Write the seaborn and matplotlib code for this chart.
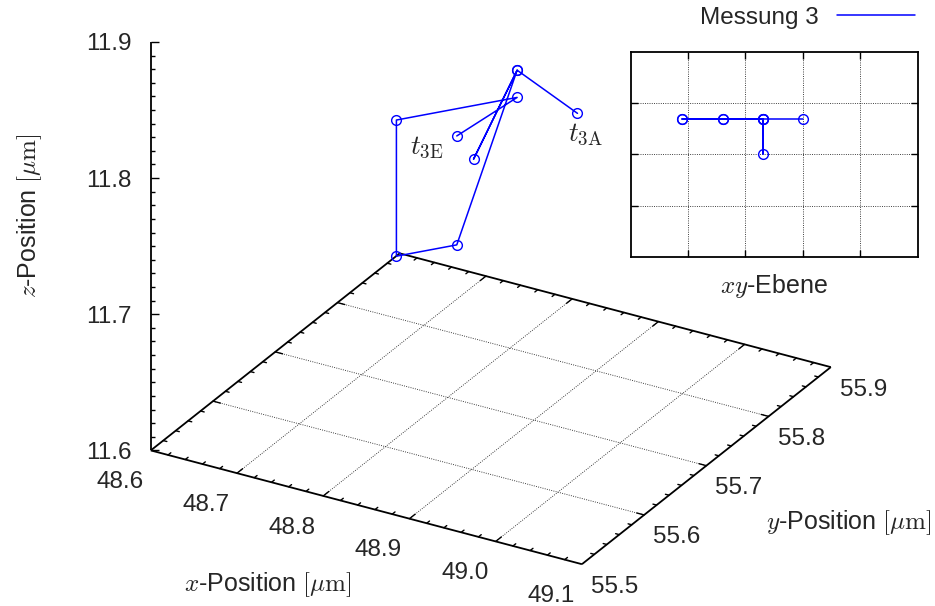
import numpy as np
import pandas as pd
import matplotlib
matplotlib.use("Agg")
import matplotlib.pyplot as plt
from matplotlib.lines import Line2D
from mpl_toolkits.mplot3d import proj3d
import seaborn as sns

# Trajectory of measurement 3, from the start (t_3A) to the end (t_3E), in µm
x_pos = [48.90, 48.83, 48.83, 48.83, 48.76, 48.69, 48.69, 48.83, 48.76]
y_pos = [55.77, 55.77, 55.70, 55.77, 55.77, 55.77, 55.77, 55.77, 55.77]
z_pos = [11.80, 11.82, 11.78, 11.82, 11.68, 11.66, 11.76, 11.80, 11.76]

x_ticks = [48.6, 48.7, 48.8, 48.9, 49.0, 49.1]
y_ticks = [55.5, 55.6, 55.7, 55.8, 55.9]
z_ticks = [11.6, 11.7, 11.8, 11.9]
x_tick_labels = ["48.6", "48.7", "48.8", "48.9", "49.0", "49.1"]
y_tick_labels = ["55.5", "55.6", "55.7", "55.8", "55.9"]
z_tick_labels = ["11.6", "11.7", "11.8", "11.9"]

series_label = "Messung 3"
start_label = r"$t_{\mathrm{3A}}$"
end_label = r"$t_{\mathrm{3E}}$"
x_title = r"$x$-Position $[\mu\mathrm{m}]$"
y_title = r"$y$-Position $[\mu\mathrm{m}]$"
z_title = r"$z$-Position $[\mu\mathrm{m}]$"
xy_title = r"$xy$-Ebene"

BLUE = "#0000ff"
FS = 17.5
FS_TITLE = 18

sns.set_theme(style="white")
plt.rcParams["font.family"] = ["Liberation Sans", "DejaVu Sans"]
plt.rcParams["mathtext.fontset"] = "cm"
plt.rcParams["font.size"] = FS

W, H = 935, 606
fig = plt.figure(figsize=(W / 100, H / 100), dpi=100)
fig.patch.set_facecolor("white")

# ---- 3D view ---------------------------------------------------------------
S = 800  # side of the square 3D axes, pixels
ax = fig.add_axes([80 / W, -9.35 / H, S / W, S / H], projection="3d",
                  proj_type="ortho", computed_zorder=False)
ax.view_init(elev=27.2, azim=-60)
ax.set_box_aspect((1, 1, 0.9225), zoom=1.0200)
x0, x1 = x_ticks[0], x_ticks[-1]
y0, y1 = y_ticks[0], y_ticks[-1]
z0, z1 = z_ticks[0], z_ticks[-1]
ax.set_xlim(x0, x1)
ax.set_ylim(y0, y1)
ax.set_zlim(z0, z1)
ax.set_axis_off()
ax.patch.set_alpha(0)

edge_kw = dict(color="black", lw=1.3, solid_capstyle="butt", zorder=3)
ax.plot([x0, x1], [y0, y0], [z0, z0], **edge_kw)
ax.plot([x1, x1], [y0, y1], [z0, z0], **edge_kw)
ax.plot([x0, x1], [y1, y1], [z0, z0], **edge_kw)
ax.plot([x0, x0], [y0, y1], [z0, z0], **edge_kw)
ax.plot([x0, x0], [y0, y0], [z0, z1], **edge_kw)

# dotted grid on the base plane
grid_kw = dict(color="0.15", lw=0.65, ls=(0, (1, 1.5)), zorder=2)
for xv in x_ticks[1:-1]:
    ax.plot([xv, xv], [y0, y1], [z0, z0], **grid_kw)
for yv in y_ticks[1:-1]:
    ax.plot([x0, x1], [yv, yv], [z0, z0], **grid_kw)

# inward tics on all four base edges (major 0.1, minor 0.02)
tick_kw = dict(color="black", lw=1.0, zorder=3)
x_minor = np.round(np.linspace(x0, x1, 26), 3)
y_minor = np.round(np.linspace(y0, y1, 21), 3)
for xv in x_minor[1:-1]:
    L = 0.009 if np.isclose(xv, x_ticks).any() else 0.0045
    ax.plot([xv, xv], [y0, y0 + L], [z0, z0], **tick_kw)
    ax.plot([xv, xv], [y1, y1 - L], [z0, z0], **tick_kw)
for yv in y_minor[1:-1]:
    L = 0.0085 if np.isclose(yv, y_ticks).any() else 0.0042
    ax.plot([x1, x1 - L], [yv, yv], [z0, z0], **tick_kw)
    ax.plot([x0, x0 + L], [yv, yv], [z0, z0], **tick_kw)

# z tics pointing right from the vertical axis
z_minor = np.round(np.linspace(z0, z1, 31), 3)
z_min_only = [v for v in z_minor if not np.isclose(v, z_ticks).any()]
ax.plot([x0] * len(z_ticks), [y0] * len(z_ticks), z_ticks, ls="none",
        marker=1, ms=5.6, mew=1.0, color="black", zorder=3)
ax.plot([x0] * len(z_min_only), [y0] * len(z_min_only), z_min_only, ls="none",
        marker=1, ms=3.1, mew=1.0, color="black", zorder=3)

# measured trajectory
ax.plot(x_pos, y_pos, z_pos, color=BLUE, lw=1.1, marker="o", ms=7,
        mfc="none", mec=BLUE, mew=1.0, zorder=5)

# texts are placed at the projected 3D anchor plus a pixel offset
M = ax.get_proj()


def label3d(x, y, z, s, dx, dy, fs=FS, **kw):
    px, py, _ = proj3d.proj_transform(x, y, z, M)
    ax.annotate(s, xy=(px, py), xycoords="data", xytext=(dx, dy),
                textcoords="offset pixels", fontsize=fs,
                annotation_clip=False, **kw)


for v, s in zip(x_ticks, x_tick_labels):
    label3d(v, y0, z0, s, -31, -29.3, ha="center", va="center_baseline")
for v, s in zip(y_ticks, y_tick_labels):
    label3d(x1, v, z0, s, 32.5, -20, ha="center", va="center_baseline")
for v, s in zip(z_ticks, z_tick_labels):
    label3d(x0, y0, v, s, -19, 0, ha="right", va="center_baseline")

label3d((x0 + x1) / 2, y0, z0, x_title, -98.7, -77, fs=FS_TITLE,
        ha="center", va="center")
label3d(x1, (y0 + y1) / 2, z0, y_title, 141.8, -56.5, fs=FS_TITLE,
        ha="center", va="center")
label3d(x0, y0, (z0 + z1) / 2, z_title, -120.7, 30.85, fs=FS_TITLE,
        ha="center", va="center", rotation=90)
label3d(x_pos[0], y_pos[0], z_pos[0], start_label, 8.3, -20.3, fs=19.5,
        ha="center", va="center")
label3d(x_pos[-1], y_pos[-1], z_pos[-1], end_label, -30, -11, fs=19.5,
        ha="center", va="center")

# ---- xy-plane inset ---------------------------------------------------------
ins = fig.add_axes([630.7 / W, (H - 256.7) / H, 287 / W, 204.4 / H])
df = pd.DataFrame({"x": x_pos, "y": y_pos})
sns.lineplot(data=df, x="x", y="y", sort=False, estimator=None, ax=ins,
             color=BLUE, lw=1.1, marker="o", ms=7, mfc="none",
             mec=BLUE, mew=1.0)
ins.set_xlim(x0, x1)
ins.set_ylim(y0, y1)
ins.set_xticks(x_ticks[1:-1])
ins.set_yticks(y_ticks[1:-1])
ins.set_xticklabels([])
ins.set_yticklabels([])
ins.set_xlabel("")
ins.set_ylabel("")
ins.tick_params(direction="in", length=5, width=1.0, color="black",
                top=True, right=True, bottom=True, left=True)
ins.grid(True, color="0.15", lw=0.65, ls=(0, (1, 1.5)))
for sp in ins.spines.values():
    sp.set_color("black")
    sp.set_linewidth(1.3)
ins.annotate(xy_title, xy=(0.5, 0), xycoords="axes fraction",
             xytext=(0, -29), textcoords="offset pixels",
             ha="center", va="center", fontsize=FS_TITLE)

# ---- legend ----------------------------------------------------------------
fig.legend(handles=[Line2D([], [], color=BLUE, lw=1.1)], labels=[series_label],
           loc="center right", bbox_to_anchor=(915 / W, (H - 17.5) / H),
           frameon=False, markerfirst=False, handlelength=3.2,
           handletextpad=0.78, borderpad=0, borderaxespad=0, fontsize=FS)

fig.savefig("out.png", dpi=100, facecolor="white")
